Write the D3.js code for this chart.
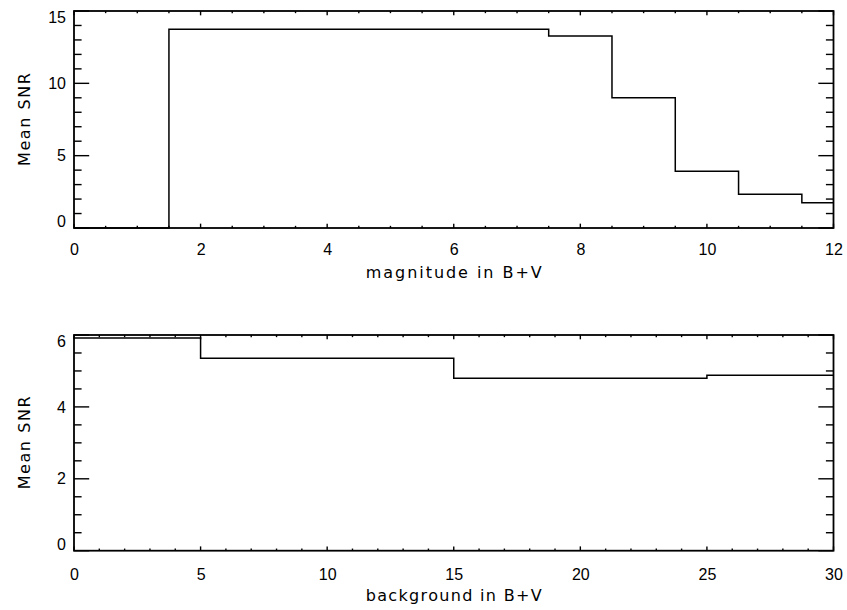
<!DOCTYPE html>
<html>
<head>
<meta charset="utf-8">
<script src="https://cdn.jsdelivr.net/npm/d3@7"></script>
<style>
  body { margin: 0; background: #fff; }
  svg { display: block; font-family: 'DejaVu Sans', sans-serif; }
  .axis path.domain { display: none; }
  .axis text { fill: #000; font-size: 16px; }
</style>
</head>
<body>
<svg id="chart" width="847" height="610"></svg>
<script>
// top panel: mean SNR per magnitude bin (bin centres)
const magnitudes = [0, 1, 2, 3, 4, 5, 6, 7, 8, 9, 10, 11, 12];
const magSNR = [0, 0, 13.73, 13.73, 13.73, 13.73, 13.73, 13.73, 13.27, 9.0, 3.93, 2.33, 1.74];

// bottom panel: mean SNR per background bin
const backgrounds = [0, 10, 20, 30];
const bgSNR = [5.92, 5.35, 4.80, 4.88];

const magTicks = [0, 2, 4, 6, 8, 10, 12];
const magSNRTicks = [0, 5, 10, 15];
const bgTicks = [0, 5, 10, 15, 20, 25, 30];
const bgSNRTicks = [0, 2, 4, 6];

const svg = d3.select('#chart');

function drawPanel(p) {
  const x = d3.scaleLinear().domain(p.xDomain).range([p.left, p.right]);
  const y = d3.scaleLinear().domain(p.yDomain).range([p.bottom, p.top]);
  const w = p.right - p.left;
  const h = p.bottom - p.top;
  const xLen = 0.02 * h;
  const yLen = 0.02 * w;

  const xMinor = d3.range(p.xDomain[0], p.xDomain[1] + 1e-9, p.xMinorStep)
    .filter(v => !p.xTicks.includes(v));
  const yMinor = d3.range(p.yDomain[0], p.yDomain[1] + 1e-9, p.yMinorStep)
    .filter(v => !p.yTicks.includes(v));

  // tick labels through d3 axes
  svg.append('g')
    .attr('class', 'axis')
    .attr('transform', `translate(0,${p.bottom})`)
    .call(d3.axisBottom(x).tickValues(p.xTicks).tickSize(0).tickPadding(p.xLabelPad).tickFormat(d3.format('d')))
    .selectAll('text').attr('dy', '0');

  svg.append('g')
    .attr('class', 'axis')
    .attr('transform', `translate(${p.left},0)`)
    .call(d3.axisLeft(y).tickValues(p.yTicks).tickSize(0).tickPadding(8).tickFormat(d3.format('d')))
    .selectAll('text')
    .attr('y', d => d === p.yDomain[1] ? 6 : d === p.yDomain[0] ? -6.5 : 0);

  // inward tick marks on all four sides
  const tg = svg.append('g').attr('stroke', '#000').attr('stroke-width', 1.4);
  const xt = p.xTicks.map(v => ({ v, len: xLen })).concat(xMinor.map(v => ({ v, len: xLen / 2 })));
  const yt = p.yTicks.map(v => ({ v, len: yLen })).concat(yMinor.map(v => ({ v, len: yLen / 2 })));

  tg.selectAll('.xb').data(xt).join('line')
    .attr('x1', d => x(d.v)).attr('x2', d => x(d.v))
    .attr('y1', p.bottom).attr('y2', d => p.bottom - d.len);
  tg.selectAll('.xt').data(xt).join('line')
    .attr('x1', d => x(d.v)).attr('x2', d => x(d.v))
    .attr('y1', p.top).attr('y2', d => p.top + d.len);
  tg.selectAll('.yl').data(yt).join('line')
    .attr('y1', d => y(d.v)).attr('y2', d => y(d.v))
    .attr('x1', p.left).attr('x2', d => p.left + d.len);
  tg.selectAll('.yr').data(yt).join('line')
    .attr('y1', d => y(d.v)).attr('y2', d => y(d.v))
    .attr('x1', p.right).attr('x2', d => p.right - d.len);

  // frame
  svg.append('rect')
    .attr('x', p.left).attr('y', p.top)
    .attr('width', w).attr('height', h)
    .attr('fill', 'none').attr('stroke', '#000').attr('stroke-width', 1.8);

  // histogram steps
  const line = d3.line()
    .x(d => x(d[0]))
    .y(d => y(d[1]))
    .curve(d3.curveStep);
  svg.append('path')
    .datum(d3.zip(p.xs, p.ys))
    .attr('d', line)
    .attr('fill', 'none')
    .attr('stroke', '#000')
    .attr('stroke-width', 1.5);

  // titles
  svg.append('text')
    .attr('x', (p.left + p.right) / 2)
    .attr('y', p.xTitleY)
    .attr('text-anchor', 'middle')
    .attr('font-size', 16)
    .attr('textLength', 176)
    .attr('lengthAdjust', 'spacing')
    .text(p.xTitle);
  svg.append('text')
    .attr('transform', `translate(30,${(p.top + p.bottom) / 2}) rotate(-90)`)
    .attr('text-anchor', 'middle')
    .attr('font-size', 16)
    .attr('textLength', 93)
    .attr('lengthAdjust', 'spacing')
    .text('Mean SNR');
}

drawPanel({
  left: 74, right: 833.5, top: 11, bottom: 228,
  xDomain: [0, 12], yDomain: [0, 15],
  xTicks: magTicks, yTicks: magSNRTicks,
  xMinorStep: 0.5, yMinorStep: 1,
  xLabelPad: 27, xTitleY: 278,
  xs: magnitudes, ys: magSNR,
  xTitle: 'magnitude in B+V'
});

drawPanel({
  left: 74, right: 833.5, top: 335, bottom: 550.7,
  xDomain: [0, 30], yDomain: [0, 6],
  xTicks: bgTicks, yTicks: bgSNRTicks,
  xMinorStep: 1, yMinorStep: 0.5,
  xLabelPad: 29.3, xTitleY: 601,
  xs: backgrounds, ys: bgSNR,
  xTitle: 'background in B+V'
});
</script>
</body>
</html>
